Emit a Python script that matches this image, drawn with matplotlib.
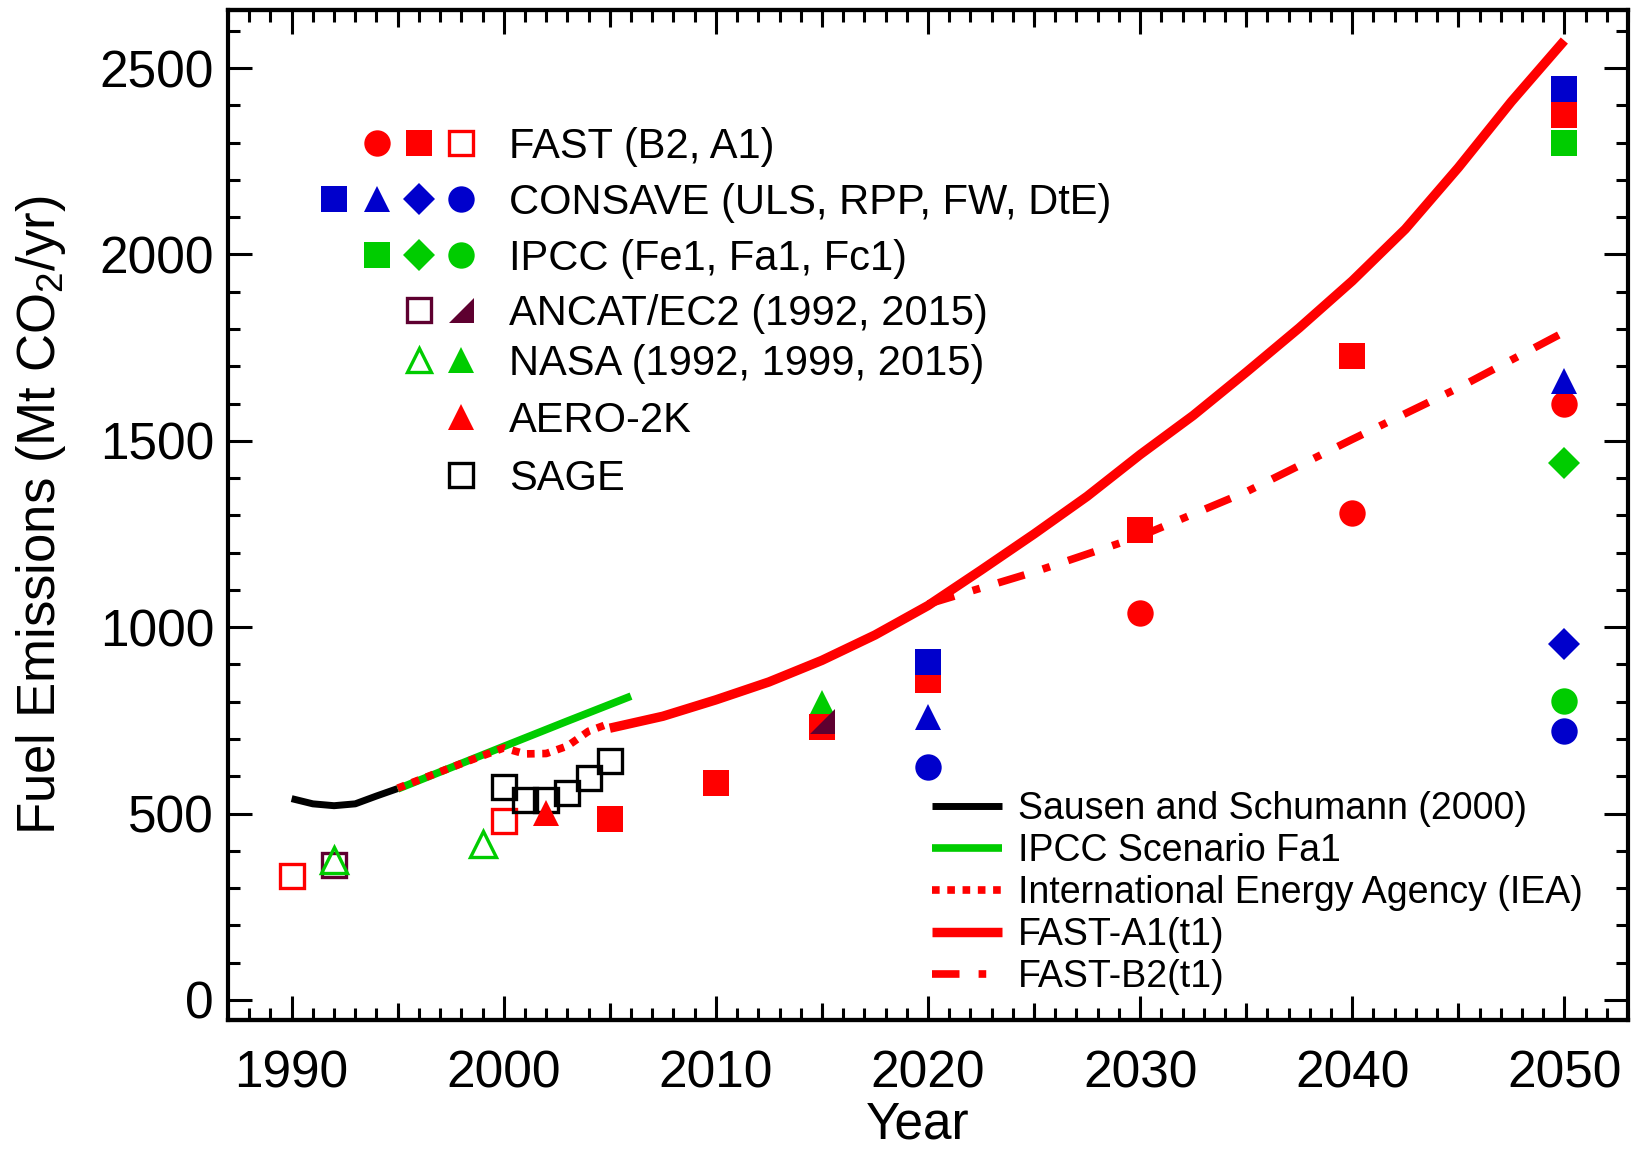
import matplotlib.pyplot as plt
from matplotlib.lines import Line2D
from matplotlib.ticker import MultipleLocator

plt.rcParams['font.family'] = ['Liberation Sans', 'DejaVu Sans']
plt.rcParams['mathtext.fontset'] = 'custom'
plt.rcParams['mathtext.rm'] = 'Liberation Sans'
plt.rcParams['mathtext.default'] = 'regular'

RED = '#ff0000'
GREEN = '#00cc00'
BLUE = '#0000cc'
DARK = '#5e0030'
HALF = [(-1, -1), (1, -1), (1, 1), (-1, -1)]  # half triangle marker

# ---- line data ----
sausen_years = [1990, 1991, 1992, 1993, 1994, 1995]
sausen_vals = [540, 526, 521, 526, 547, 567]

ipcc_fa1_years = [1995, 2000, 2003, 2006]
ipcc_fa1_vals = [566, 680, 748, 815]

iea_years = [1995, 1996, 1997, 1998, 1999, 2000, 2001, 2002, 2003, 2004, 2005]
iea_vals = [568, 590, 612, 634, 655, 676, 660, 661, 681, 721, 742]

a1_years = [2005, 2007.5, 2010, 2012.5, 2015, 2017.5, 2020, 2022.5, 2025, 2027.5,
            2030, 2032.5, 2035, 2037.5, 2040, 2042.5, 2045, 2047.5, 2050]
a1_vals = [729, 761, 805, 853, 911, 979, 1058, 1153, 1250, 1351,
           1463, 1568, 1684, 1803, 1929, 2068, 2233, 2410, 2574]

b2_years = [2020, 2025, 2030, 2035, 2040, 2045, 2050]
b2_vals = [1062, 1148, 1244, 1363, 1504, 1642, 1792]

# ---- point data ----
fast_a1_years = [2005, 2010, 2015, 2020, 2030, 2040, 2050]
fast_a1_vals = [484, 582, 733, 859, 1260, 1727, 2374]
fast_old_years = [1990, 2000]
fast_old_vals = [333, 481]
fast_b2_years = [2030, 2040, 2050]
fast_b2_vals = [1039, 1306, 1598]

consave_uls_years = [2020, 2050]
consave_uls_vals = [907, 2444]
consave_rpp_years = [2020, 2050]
consave_rpp_vals = [760, 1660]
consave_fw_years = [2050]
consave_fw_vals = [955]
consave_dte_years = [2020, 2050]
consave_dte_vals = [626, 722]

ipcc_fe1_years, ipcc_fe1_vals = [2050], [2300]
ipcc_fa1p_years, ipcc_fa1p_vals = [2050], [1440]
ipcc_fc1_years, ipcc_fc1_vals = [2050], [802]

ancat_92_years, ancat_92_vals = [1992], [361]
ancat_15_years, ancat_15_vals = [2015], [748]

nasa_open_years = [1992, 1999]
nasa_open_vals = [375, 418]
nasa_15_years, nasa_15_vals = [2015], [797]

aero_years, aero_vals = [2002], [502]

sage_years = [2000, 2001, 2002, 2003, 2004, 2005]
sage_vals = [571, 537, 537, 555, 596, 641]

W, H = 1637, 1149
fig = plt.figure(figsize=(W / 100, H / 100), dpi=100)
ax = fig.add_axes([228 / W, (H - 1020) / H, 1400 / W, 1010 / H])

# lines
ax.plot(sausen_years, sausen_vals, color='black', lw=5, solid_capstyle='butt',
        label='Sausen and Schumann (2000)')
ax.plot(ipcc_fa1_years, ipcc_fa1_vals, color=GREEN, lw=5.5, solid_capstyle='butt',
        label='IPCC Scenario Fa1')
ax.plot(iea_years, iea_vals, color=RED, lw=5.5, linestyle=(0, (1, 1)),
        label='International Energy Agency (IEA)')
ax.plot(a1_years, a1_vals, color=RED, lw=6.8, solid_capstyle='butt',
        solid_joinstyle='round', label='FAST-A1(t1)')
ax.plot(b2_years, b2_vals, color=RED, lw=5.5, linestyle=(0, (3.6, 2.5, 1, 2.5)),
        label='FAST-B2(t1)')

ms = 19
def pts(x, y, m, c, filled=True, size=ms):
    if filled:
        ax.plot(x, y, ls='none', marker=m, ms=size, color=c, mew=0, zorder=3)
    else:
        ax.plot(x, y, ls='none', marker=m, ms=size - 2, mfc='none', mec=c, mew=2.4, zorder=3)

pts(ipcc_fe1_years, ipcc_fe1_vals, 's', GREEN)
pts(ipcc_fa1p_years, ipcc_fa1p_vals, 'D', GREEN, size=16.5)
pts(ipcc_fc1_years, ipcc_fc1_vals, 'o', GREEN)
pts(nasa_15_years, nasa_15_vals, '^', GREEN)
pts(fast_a1_years, fast_a1_vals, 's', RED)
pts(fast_old_years, fast_old_vals, 's', RED, filled=False)
pts(fast_b2_years, fast_b2_vals, 'o', RED)
pts(consave_uls_years, consave_uls_vals, 's', BLUE)
pts(consave_rpp_years, consave_rpp_vals, '^', BLUE)
pts(consave_fw_years, consave_fw_vals, 'D', BLUE, size=16.5)
pts(consave_dte_years, consave_dte_vals, 'o', BLUE)
pts(ancat_92_years, ancat_92_vals, 's', DARK, filled=False)
pts(ancat_15_years, ancat_15_vals, HALF, DARK, size=18)
pts(nasa_open_years, nasa_open_vals, '^', GREEN, filled=False, size=21)
pts(sage_years, sage_vals, 's', 'black', filled=False)
pts(aero_years, aero_vals, '^', RED)

# axes
ax.set_xlim(1987, 2053)
ax.set_ylim(-54, 2656)
ax.xaxis.set_major_locator(MultipleLocator(10))
ax.xaxis.set_minor_locator(MultipleLocator(1))
ax.yaxis.set_major_locator(MultipleLocator(500))
ax.yaxis.set_minor_locator(MultipleLocator(100))
ax.tick_params(which='both', direction='in', top=True, right=True, width=2.2)
ax.tick_params(which='major', length=17, labelsize=37)
ax.tick_params(which='minor', length=8.5)
ax.tick_params(axis='x', pad=21)
ax.tick_params(axis='y', pad=10)
for s in ax.spines.values():
    s.set_linewidth(3)

mid_ticks = [1995, 2005, 2015, 2025, 2035, 2045]
for loc in ('bottom', 'top'):
    sec = ax.secondary_xaxis(loc)
    sec.set_xticks(mid_ticks)
    sec.tick_params(direction='in', length=12.5, width=2.2,
                    labelbottom=False, labeltop=False)
    sec.spines[loc].set_linewidth(3)

ax.set_xlabel('Year', fontsize=37)
ax.set_ylabel('Fuel Emissions (Mt CO$_2$/yr)', fontsize=38)
ax.xaxis.set_label_coords((918 - 228) / 1400, -0.080)
ax.yaxis.set_label_coords((68 - 228) / 1400, 0.5)

# line legend (lower right)
ax.legend(loc='upper left', bbox_to_anchor=(932 / W, 1 - 791 / H),
          bbox_transform=fig.transFigure, frameon=False, fontsize=27,
          handlelength=1.87, handletextpad=0.43, labelspacing=0.16,
          borderpad=0, borderaxespad=0)

# symbol key (upper left)
rows = [
    (143, [(377, 'o', RED, True), (419, 's', RED, True), (461, 's', RED, False)],
     'FAST (B2, A1)'),
    (199, [(334, 's', BLUE, True), (377, '^', BLUE, True), (419, 'D', BLUE, True),
           (461, 'o', BLUE, True)], 'CONSAVE (ULS, RPP, FW, DtE)'),
    (255, [(377, 's', GREEN, True), (419, 'D', GREEN, True), (461, 'o', GREEN, True)],
     'IPCC (Fe1, Fa1, Fc1)'),
    (310, [(419, 's', DARK, False), (461, HALF, DARK, True)], 'ANCAT/EC2 (1992, 2015)'),
    (360, [(419, '^', GREEN, False), (461, '^', GREEN, True)], 'NASA (1992, 1999, 2015)'),
    (417, [(461, '^', RED, True)], 'AERO-2K'),
    (475, [(461, 's', 'black', False)], 'SAGE'),
]
for y, keys, label in rows:
    for x, m, c, filled in keys:
        size = 16.5 if m == 'D' else (18 if m is HALF else ms)
        if filled:
            ln = Line2D([x / W], [1 - y / H], marker=m, ms=size, color=c, mew=0,
                        ls='none', transform=fig.transFigure)
        else:
            ln = Line2D([x / W], [1 - y / H], marker=m, ms=size - 2, mfc='none',
                        mec=c, mew=2.4, ls='none', transform=fig.transFigure)
        fig.add_artist(ln)
    fig.text(509 / W, 1 - (y + 15) / H, label, fontsize=30, va='baseline', ha='left')

fig.savefig('out.png', dpi=100)
